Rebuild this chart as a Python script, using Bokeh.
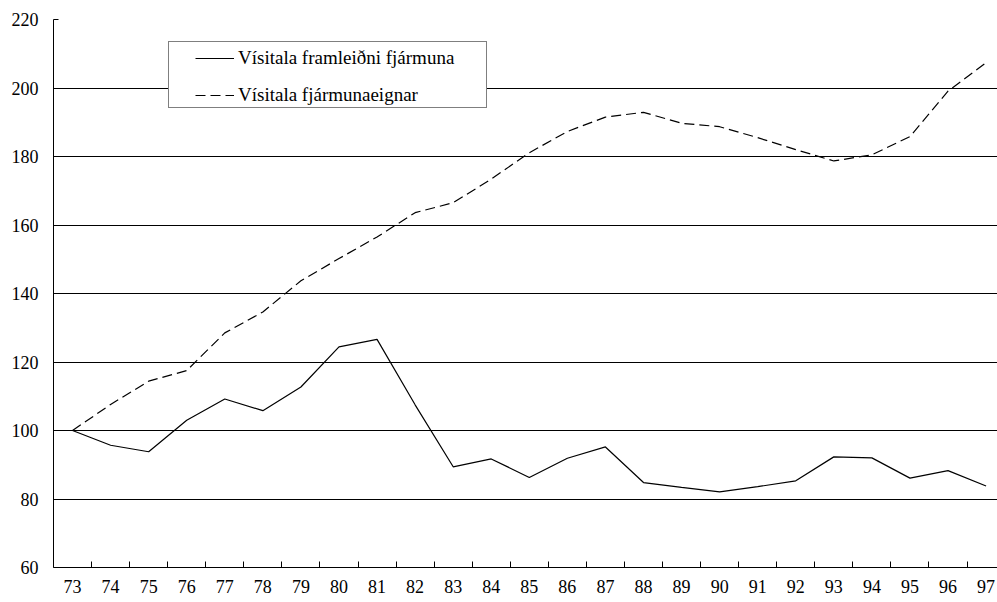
from bokeh.plotting import figure
from bokeh.models import Range1d, FixedTicker, Legend, LegendItem
from bokeh.embed import file_html
from bokeh.resources import INLINE

# ---- data ----
years = list(range(73, 98))
framleidni = [100, 95.7, 93.8, 103.0, 109.2, 105.8, 112.7, 124.4, 126.6, 107.5,
              89.4, 91.7, 86.3, 91.9, 95.2, 84.8, 83.4, 82.1, 83.6, 85.3,
              92.3, 92.0, 86.1, 88.3, 83.8]
eign = [100, 107.6, 114.4, 117.5, 128.5, 134.6, 143.7, 150.2, 156.5, 163.6,
        166.5, 173.4, 181.1, 187.3, 191.5, 192.9, 189.7, 188.7, 185.5, 182.0,
        178.7, 180.5, 185.8, 199.1, 207.4]
y_ticks = [60, 80, 100, 120, 140, 160, 180, 200, 220]
label_1 = "Vísitala framleiðni fjármuna"
label_2 = "Vísitala fjármunaeignar"

FONT = "Liberation Serif"

p = figure(width=997, height=602, output_backend="svg", toolbar_location=None,
           x_range=Range1d(72.5, 97.30), y_range=Range1d(60, 220),
           min_border_left=53, min_border_right=0, min_border_top=19,
           min_border_bottom=35)
p.outline_line_color = None
p.background_fill_color = "white"
p.border_fill_color = "white"

r1 = p.line(years, framleidni, line_color="black", line_width=1.2)
r2 = p.line(years, eign, line_color="black", line_width=1.2, line_dash="10 5")

# x axis: labels at years, ticks between years
xa = p.xaxis[0]
xa.ticker = FixedTicker(ticks=years, minor_ticks=[y + 0.5 for y in years[:-1]])
xa.major_tick_line_color = None
xa.major_tick_in = 0
xa.major_tick_out = 0
xa.minor_tick_in = 6
xa.minor_tick_out = 0
xa.minor_tick_line_color = "black"
xa.axis_line_color = "black"
xa.major_label_text_font = FONT
xa.major_label_text_font_size = "18px"
xa.major_label_text_color = "black"
xa.major_label_standoff = 12

ya = p.yaxis[0]
ya.ticker = FixedTicker(ticks=y_ticks)
ya.minor_tick_line_color = None
ya.major_tick_in = 5
ya.major_tick_out = 0
ya.major_tick_line_color = "black"
ya.axis_line_color = "black"
ya.major_label_text_font = FONT
ya.major_label_text_font_size = "18px"
ya.major_label_text_color = "black"
ya.major_label_standoff = 15

p.xgrid.grid_line_color = None
p.ygrid.ticker = FixedTicker(ticks=y_ticks)
p.ygrid.grid_line_color = "black"
p.ygrid.grid_line_width = 1

# legend frame (border box)
frame_leg = Legend(items=[LegendItem(label=" ", renderers=[r1])],
                   location=(115, 459), orientation="vertical",
                   padding=0, spacing=0, margin=0,
                   glyph_width=0, glyph_height=65, label_width=317, label_height=65,
                   label_standoff=0,
                   border_line_color="black", border_line_width=1,
                   background_fill_color="white", background_fill_alpha=1,
                   label_text_font_size="1px")
p.add_layout(frame_leg)

leg = Legend(items=[LegendItem(label=label_1, renderers=[r1]),
                    LegendItem(label=label_2, renderers=[r2])],
             location=(142, 461), orientation="vertical",
             padding=0, spacing=15, margin=0,
             glyph_width=39, glyph_height=22, label_height=22,
             label_standoff=4,
             border_line_color=None, background_fill_alpha=0,
             label_text_font=FONT, label_text_font_size="19px",
             label_text_color="black")
p.add_layout(leg)

open("out.html", "w").write(file_html(p, INLINE))
